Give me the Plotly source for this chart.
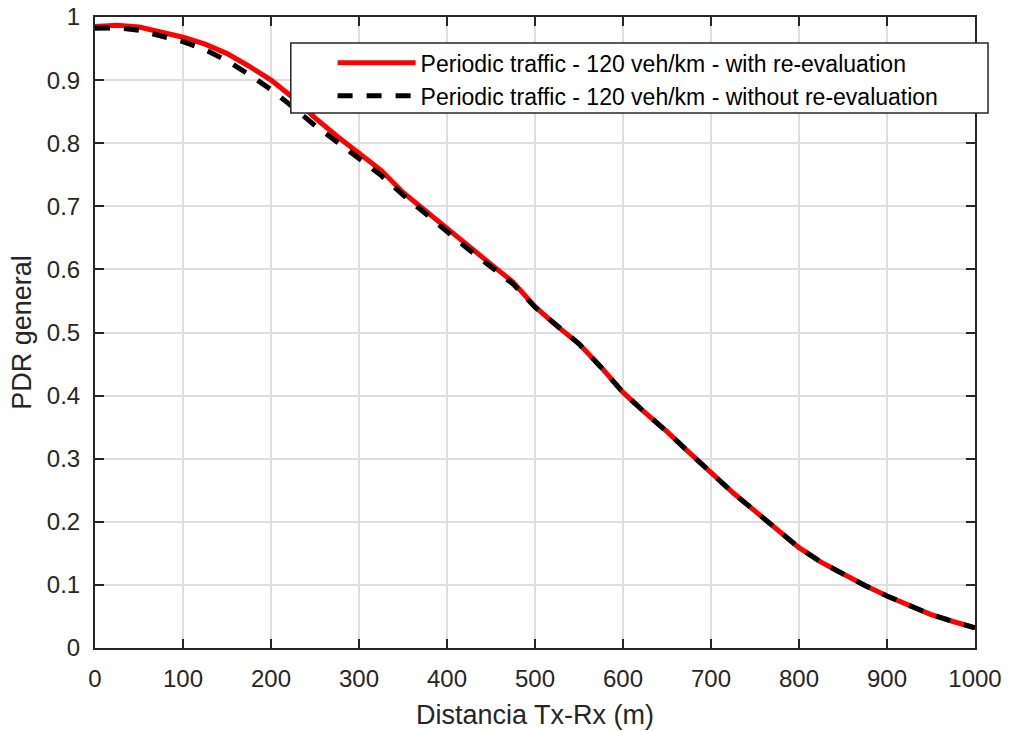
import plotly.graph_objects as go

distance = [0, 25, 50, 75, 100, 125, 150, 175, 200, 225, 250, 275, 300, 325, 350, 375, 400,
            425, 450, 475, 500, 525, 550, 575, 600, 625, 650, 675, 700, 725, 750, 775, 800,
            825, 850, 875, 900, 925, 950, 975, 1000]
pdr_with = [0.985, 0.987, 0.984, 0.977, 0.968, 0.957, 0.942, 0.922, 0.900, 0.872, 0.840, 0.811,
            0.784, 0.757, 0.722, 0.693, 0.665, 0.635, 0.608, 0.580, 0.541, 0.510, 0.482, 0.445,
            0.405, 0.373, 0.343, 0.310, 0.278, 0.246, 0.217, 0.187, 0.159, 0.136, 0.117, 0.099,
            0.0825, 0.068, 0.053, 0.042, 0.032]
pdr_without = [0.982, 0.983, 0.979, 0.971, 0.961, 0.948, 0.931, 0.909, 0.885, 0.857, 0.828, 0.802,
               0.776, 0.749, 0.718, 0.688, 0.660, 0.631, 0.604, 0.577, 0.540, 0.510, 0.482, 0.445,
               0.405, 0.373, 0.343, 0.310, 0.278, 0.246, 0.217, 0.187, 0.159, 0.136, 0.117, 0.099,
               0.0825, 0.068, 0.053, 0.042, 0.032]
x_ticks = [0, 100, 200, 300, 400, 500, 600, 700, 800, 900, 1000]
y_ticks = [0, 0.1, 0.2, 0.3, 0.4, 0.5, 0.6, 0.7, 0.8, 0.9, 1]
y_tick_labels = ["0", "0.1", "0.2", "0.3", "0.4", "0.5", "0.6", "0.7", "0.8", "0.9", "1"]

FONT = "Liberation Sans, Arial, Helvetica, sans-serif"
AX = "#262626"

fig = go.Figure()
fig.add_trace(go.Scatter(x=distance, y=pdr_with, mode="lines",
                         name="Periodic traffic - 120 veh/km - with re-evaluation",
                         line=dict(color="#ff0000", width=5)))
fig.add_trace(go.Scatter(x=distance, y=pdr_without, mode="lines",
                         name="Periodic traffic - 120 veh/km - without re-evaluation",
                         line=dict(color="#000000", width=5, dash="15px,14px")))

axis_common = dict(showgrid=True, gridcolor="#dedede", gridwidth=1.5,
                   showline=True, linecolor=AX, linewidth=2, mirror="ticks",
                   ticks="inside", ticklen=9, tickcolor=AX, tickwidth=2,
                   zeroline=False, automargin=False,
                   tickfont=dict(family=FONT, size=24, color=AX))

fig.update_xaxes(range=[0, 1000], tickvals=x_ticks, ticklabelstandoff=8,
                 title=dict(text="Distancia Tx-Rx (m)", font=dict(family=FONT, size=27, color=AX),
                            standoff=14),
                 **axis_common)
fig.update_yaxes(range=[0, 1], tickvals=y_ticks, ticktext=y_tick_labels, ticklabelstandoff=8,
                 title=dict(text="PDR general", font=dict(family=FONT, size=27, color=AX),
                            standoff=7),
                 **axis_common)

# legend frame (decoration only)
fig.add_shape(type="rect", xref="paper", yref="paper",
              x0=0.2225, x1=1.0148, y0=0.848, y1=0.9588,
              line=dict(color=AX, width=1.5), fillcolor="white", layer="above")

fig.update_layout(
    width=1009, height=731,
    margin=dict(l=95, r=34, t=17, b=83),
    paper_bgcolor="white", plot_bgcolor="white",
    showlegend=True,
    legend=dict(x=0.270, y=0.9615, xanchor="left", yanchor="top",
                bgcolor="rgba(0,0,0,0)", borderwidth=0,
                font=dict(family=FONT, size=23, color="#000000"),
                itemwidth=78, tracegroupgap=0),
)

fig.write_html("out.html", config={"displayModeBar": False},
               post_script="document.body.style.margin='0';document.body.style.padding='0';")
